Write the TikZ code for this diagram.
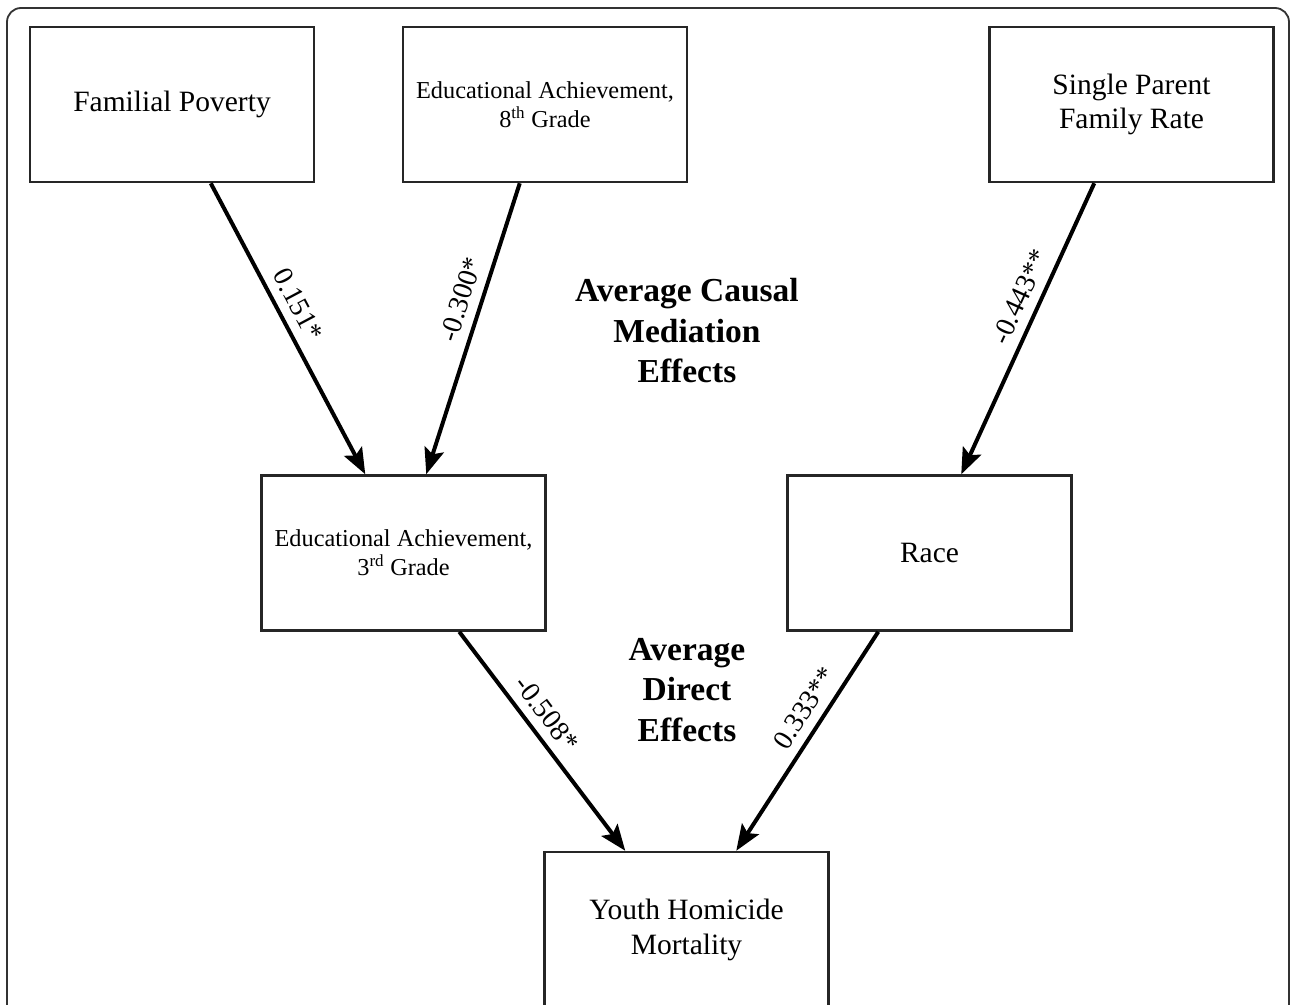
\documentclass[tikz,border=0pt]{standalone}
\usepackage{fontspec}
\setmainfont{Liberation Serif}
\usetikzlibrary{arrows.meta,calc}
\begin{document}
\begin{tikzpicture}[x=1pt,y=-1pt,
  box/.style={draw=black!85,line width=2.5pt,minimum width=284pt,minimum height=155pt,align=center,inner sep=0pt},
  bigtxt/.style={font=\fontsize{29.5}{34.5}\selectfont},
  smalltxt/.style={font=\fontsize{24.3}{29}\selectfont},
  conn/.style={line width=4pt,-{Stealth[length=26pt,width=20pt,inset=5pt]}},
  coef/.style={font=\fontsize{28}{30}\selectfont,sloped,above=7pt,inner sep=2pt},
  head/.style={font=\bfseries\fontsize{33.5}{40.5}\selectfont,align=center}]
\useasboundingbox (0,0) rectangle (1292,1004);
\clip (0,0) rectangle (1292,1004);
\fill[white] (0,0) rectangle (1292,1004);
\draw[black!80,line width=1.8pt,rounded corners=14pt] (7,8) rectangle (1289,1040);
\node[box,bigtxt] (fp) at (172,104.5) {Familial Poverty};
\node[box,smalltxt] (e8) at (545,104.5) {Educational Achievement,\\8\textsuperscript{th} Grade};
\node[box,bigtxt] (sp) at (1131.5,104.5) {Single Parent\\Family Rate};
\node[box,smalltxt] (e3) at (403.5,553) {Educational Achievement,\\3\textsuperscript{rd} Grade};
\node[box,bigtxt] (race) at (929.5,553) {Race};
\node[box,bigtxt,minimum height=156pt] (yh) at (686.5,930) {Youth Homicide\\Mortality};
\node[head] (acme) at (687,331) {Average Causal\\Mediation\\Effects};
\node[head] (ade) at (687,690) {Average\\Direct\\Effects};
\draw[conn] ([xshift=182pt]fp.south west) -- node[coef,pos=0.45] {0.151*} ([xshift=105pt]e3.north west);
\draw[conn] ([xshift=118pt]e8.south west) -- node[coef,pos=0.42] {-0.300*} ([xshift=166pt]e3.north west);
\draw[conn] ([xshift=106pt]sp.south west) -- node[coef,pos=0.42] {-0.443**} ([xshift=175pt]race.north west);
\draw[conn] ([xshift=199pt]e3.south west) -- node[coef,pos=0.43] {-0.508*} ([xshift=82pt]yh.north west);
\draw[conn] ([xshift=92pt]race.south west) -- node[coef,pos=0.40] {0.333**} ([xshift=193pt]yh.north west);
\end{tikzpicture}
\end{document}
